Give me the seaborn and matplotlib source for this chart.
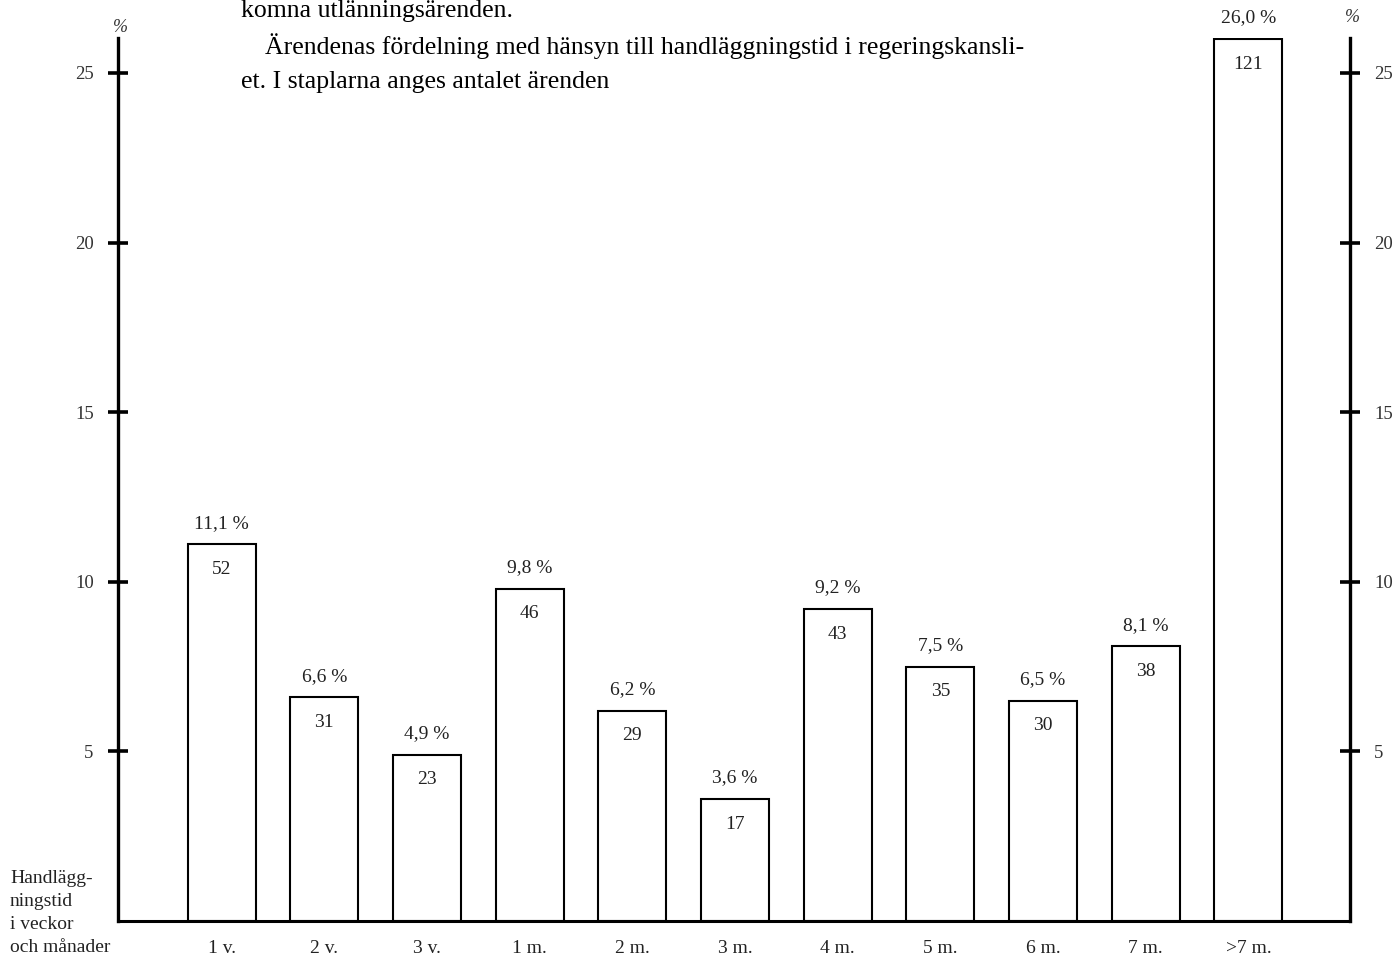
import matplotlib
matplotlib.use("Agg")
import matplotlib.pyplot as plt
import seaborn as sns
import pandas as pd

categories = ["1 v.", "2 v.", "3 v.", "1 m.", "2 m.", "3 m.", "4 m.", "5 m.", "6 m.", "7 m.", ">7 m."]
percent = [11.1, 6.6, 4.9, 9.8, 6.2, 3.6, 9.2, 7.5, 6.5, 8.1, 26.0]
counts = [52, 31, 23, 46, 29, 17, 43, 35, 30, 38, 121]
percent_labels = ["11,1 %", "6,6 %", "4,9 %", "9,8 %", "6,2 %", "3,6 %", "9,2 %", "7,5 %", "6,5 %", "8,1 %", "26,0 %"]
yticks = [5, 10, 15, 20, 25]

sns.set_style("white")
plt.rcParams["font.family"] = ["Liberation Serif", "DejaVu Serif"]

df = pd.DataFrame({"kategori": categories, "procent": percent})

fig = plt.figure(figsize=(13.97, 9.59), dpi=100)
ax = fig.add_axes([118 / 1397, 1 - 921 / 959, (1350 - 118) / 1397, (921 - 38) / 959])

sns.barplot(data=df, x="kategori", y="procent", color="white", saturation=1,
            edgecolor="black", linewidth=1.5, width=0.66, ax=ax)

ax.set_xlim(-1.01, 10.99)
ax.set_ylim(0, 26.03)
ax.set_xlabel("")
ax.set_ylabel("")
ax.set_yticks(yticks)
ax.set_yticklabels([str(t) for t in yticks])

ax.spines["top"].set_visible(False)
for s in ["left", "right"]:
    ax.spines[s].set_visible(True)
    ax.spines[s].set_linewidth(2.4)
    ax.spines[s].set_color("black")
ax.spines["bottom"].set_linewidth(2.2)
ax.spines["bottom"].set_color("black")

ax.tick_params(axis="y", which="both", left=True, right=True, labelleft=True, labelright=True,
               direction="inout", length=15, width=2.6, color="black",
               labelsize=13.5, labelcolor="#333333", pad=10)
ax.tick_params(axis="x", bottom=False, labelsize=14, labelcolor="#222222", pad=10)

for i, (p, c, pl) in enumerate(zip(percent, counts, percent_labels)):
    ax.annotate(pl, (i, p), xytext=(0, 9), textcoords="offset points", ha="center", va="bottom",
                fontsize=14, color="#222222", annotation_clip=False)
    ax.annotate(str(c), (i, p), xytext=(0, -12), textcoords="offset points", ha="center", va="top",
                fontsize=14, color="#222222", annotation_clip=False)

# % markers above axes
fig.text(120 / 1397, 1 - 27 / 959, "%", ha="center", va="center", fontsize=13, color="#333333", style="italic")
fig.text(1352 / 1397, 1 - 18 / 959, "%", ha="center", va="center", fontsize=13, color="#333333", style="italic")

# caption text
fig.text(241 / 1397, 1 - 17 / 959, "komna utlänningsärenden.", ha="left", va="baseline", fontsize=18.5, color="black")
fig.text(265 / 1397, 1 - 54 / 959, "Ärendenas fördelning med hänsyn till handläggningstid i regeringskansli-",
         ha="left", va="baseline", fontsize=18.5, color="black")
fig.text(241 / 1397, 1 - 88 / 959, "et. I staplarna anges antalet ärenden", ha="left", va="baseline",
         fontsize=18.5, color="black")

# axis caption bottom-left
fig.text(10 / 1397, 1 - 952 / 959, "Handlägg-\nningstid\ni veckor\noch månader", ha="left", va="baseline",
         fontsize=14, color="#222222", linespacing=1.45)

fig.savefig("out.png", dpi=100)
